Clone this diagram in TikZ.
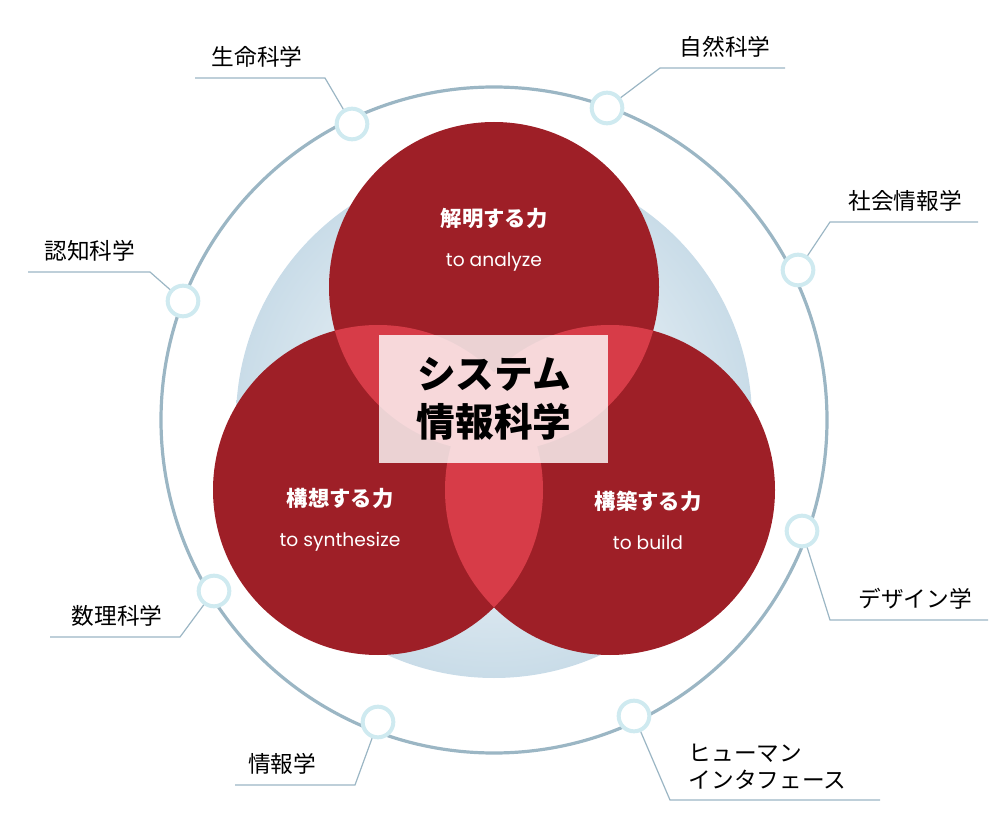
\documentclass[tikz,border=0pt]{standalone}
\usepackage{fontspec}
\setmainfont{Noto Sans CJK JP}
\newfontfamily\latinfont{Poppins}
\definecolor{darkred}{HTML}{9E1F27}
\definecolor{lightred}{HTML}{D73C48}
\definecolor{ringblue}{HTML}{9BB6C4}
\definecolor{glowblue}{HTML}{C9DCE8}
\definecolor{dotglow}{HTML}{CFEAF0}
\tikzset{
  ring/.style={draw=ringblue, line width=2.4pt},
  dot/.style={circle, minimum size=23pt, inner sep=0pt, fill=white, draw=dotglow, line width=3pt},
  lead/.style={draw=ringblue, line width=0.9pt},
  field/.style={font=\fontsize{17}{20}\selectfont, anchor=south, inner sep=2pt},
  power/.style={text=white, align=center, font=\bfseries\fontsize{16}{30}\selectfont}
}
\begin{document}
\begin{tikzpicture}[x=0.75pt,y=-0.75pt]
    \useasboundingbox (0,0) rectangle (1000,827);

    % glow behind the circles
    \shade[inner color=white, outer color=glowblue] (494,420) circle [radius=258];

    % outer ring
    \draw[ring] (494,420) circle [radius=333];

    % three powers
    \fill[darkred] (494,287) circle [radius=165];
    \fill[darkred] (378,490) circle [radius=165];
    \fill[darkred] (610,490) circle [radius=165];
    \begin{scope}
        \clip (494,287) circle [radius=165];
        \fill[lightred] (378,490) circle [radius=165];
        \fill[lightred] (610,490) circle [radius=165];
    \end{scope}
    \begin{scope}
        \clip (378,490) circle [radius=165];
        \fill[lightred] (610,490) circle [radius=165];
    \end{scope}

    \node[power] (ana) at (494,240) {解明する力\\{\latinfont\mdseries\fontsize{14}{16}\selectfont to analyze}};
    \node[power] (syn) at (340,520) {構想する力\\{\latinfont\mdseries\fontsize{14}{16}\selectfont to synthesize}};
    \node[power] (bld) at (648,520) {構築する力\\{\latinfont\mdseries\fontsize{14}{16}\selectfont to build}};

    % center box
    \fill[white, opacity=0.8] (379,335) rectangle (608,463);
    \node[align=center, font=\bfseries\fontsize{29}{36}\selectfont] (core) at (494,399) {システム\\情報科学};

    % dots on the ring
    \node[dot] (d1) at (352,124) {};
    \node[dot] (d2) at (607,108) {};
    \node[dot] (d3) at (798,270) {};
    \node[dot] (d4) at (183,301) {};
    \node[dot] (d5) at (214,591) {};
    \node[dot] (d6) at (802,531) {};
    \node[dot] (d7) at (378,722) {};
    \node[dot] (d8) at (634,716) {};

    % leaders and labels
    \coordinate (u1) at (325,78);  \coordinate (v1) at (195,78);
    \coordinate (u2) at (660,68);  \coordinate (v2) at (785,68);
    \coordinate (u3) at (830,222); \coordinate (v3) at (978,222);
    \coordinate (u4) at (150,272); \coordinate (v4) at (28,272);
    \coordinate (u5) at (180,637); \coordinate (v5) at (50,637);
    \coordinate (u6) at (830,620); \coordinate (v6) at (988,620);
    \coordinate (u7) at (355,785); \coordinate (v7) at (235,785);
    \coordinate (u8) at (670,800); \coordinate (v8) at (880,800);
    \draw[lead] (d1) -- (u1) -- (v1);
    \draw[lead] (d2) -- (u2) -- (v2);
    \draw[lead] (d3) -- (u3) -- (v3);
    \draw[lead] (d4) -- (u4) -- (v4);
    \draw[lead] (d5) -- (u5) -- (v5);
    \draw[lead] (d6) -- (u6) -- (v6);
    \draw[lead] (d7) -- (u7) -- (v7);
    \draw[lead] (d8) -- (u8) -- (v8);

    \node[field] (f1) at (257,70) {生命科学};
    \node[field] (f2) at (725,60) {自然科学};
    \node[field] (f3) at (905,214) {社会情報学};
    \node[field] (f4) at (90,264) {認知科学};
    \node[field] (f5) at (117,629) {数理科学};
    \node[field] (f6) at (915,612) {デザイン学};
    \node[field] (f7) at (282,777) {情報学};
    \node[field, align=left, anchor=south west] (f8) at (686,792) {ヒューマン\\インタフェース};

\end{tikzpicture}
\end{document}
